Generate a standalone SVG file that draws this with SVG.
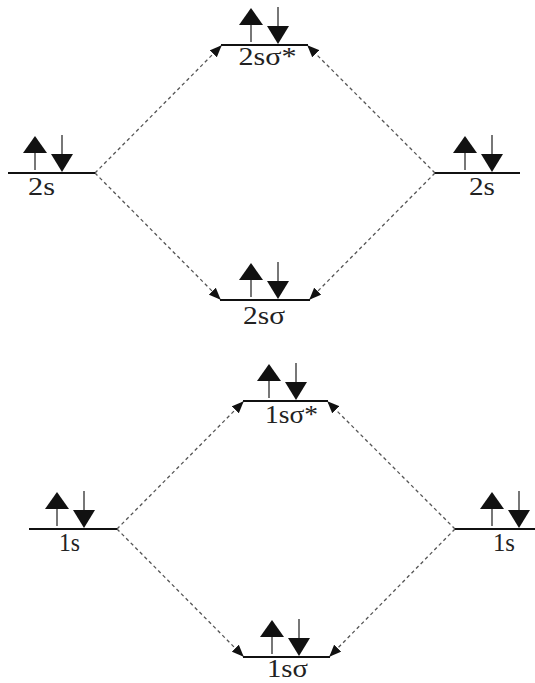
<svg xmlns="http://www.w3.org/2000/svg" width="535" height="683" viewBox="0 0 535 683">
<style>
.lvl{stroke:#111;stroke-width:2;fill:none}
.sh{stroke:#555;stroke-width:1.6;fill:none}
.tri{fill:#111}
.con{stroke:#555;stroke-width:1.3;stroke-dasharray:3.5,3;fill:none}
.lab{font-family:"Liberation Serif","Times New Roman",serif;font-size:25px;fill:#222;text-anchor:middle}
</style>
<defs>
<marker id="ah" markerWidth="12" markerHeight="10" refX="11" refY="5" orient="auto" markerUnits="userSpaceOnUse">
<path d="M0,0 L12,5 L0,10 Z" fill="#111"/>
</marker>
<g id="pair">
<line class="sh" x1="0" y1="-3" x2="0" y2="-20"/>
<path class="tri" d="M-12,-20 L0,-37 L12,-20 Z"/>
<line class="sh" x1="27" y1="-38" x2="27" y2="-19"/>
<path class="tri" d="M16,-19 L38,-19 L27,-1 Z"/>
</g>
</defs>
<g id="connectors">
<line class="con" x1="95" y1="173" x2="221" y2="46" marker-end="url(#ah)"/>
<line class="con" x1="95" y1="173" x2="220" y2="299" marker-end="url(#ah)"/>
<line class="con" x1="435" y1="173" x2="308" y2="46" marker-end="url(#ah)"/>
<line class="con" x1="435" y1="173" x2="310" y2="299" marker-end="url(#ah)"/>
<line class="con" x1="117" y1="529" x2="243" y2="402" marker-end="url(#ah)"/>
<line class="con" x1="117" y1="529" x2="243" y2="656" marker-end="url(#ah)"/>
<line class="con" x1="455" y1="529" x2="328" y2="402" marker-end="url(#ah)"/>
<line class="con" x1="455" y1="529" x2="330" y2="656" marker-end="url(#ah)"/>
</g>
<g id="mo-2s-sigma-star">
<line class="lvl" x1="221" y1="45" x2="308" y2="45"/>
<use href="#pair" x="251" y="45"/>
<text class="lab" x="267.5" y="65" textLength="58" lengthAdjust="spacingAndGlyphs">2sσ*</text>
</g>
<g id="ao-2s-left">
<line class="lvl" x1="8" y1="173" x2="95" y2="173"/>
<use href="#pair" x="35" y="173"/>
<text class="lab" x="41.5" y="195" textLength="27" lengthAdjust="spacingAndGlyphs">2s</text>
</g>
<g id="ao-2s-right">
<line class="lvl" x1="435" y1="173" x2="520" y2="173"/>
<use href="#pair" x="465" y="173"/>
<text class="lab" x="482" y="195" textLength="26" lengthAdjust="spacingAndGlyphs">2s</text>
</g>
<g id="mo-2s-sigma">
<line class="lvl" x1="220" y1="300" x2="310" y2="300"/>
<use href="#pair" x="251" y="300"/>
<text class="lab" x="264" y="324" textLength="42" lengthAdjust="spacingAndGlyphs">2sσ</text>
</g>
<g id="mo-1s-sigma-star">
<line class="lvl" x1="243" y1="401" x2="328" y2="401"/>
<use href="#pair" x="269" y="401"/>
<text class="lab" x="291.5" y="423" textLength="53" lengthAdjust="spacingAndGlyphs">1sσ*</text>
</g>
<g id="ao-1s-left">
<line class="lvl" x1="29" y1="529" x2="117" y2="529"/>
<use href="#pair" x="57" y="529"/>
<text class="lab" x="69.5" y="551" textLength="21" lengthAdjust="spacingAndGlyphs">1s</text>
</g>
<g id="ao-1s-right">
<line class="lvl" x1="455" y1="529" x2="535" y2="529"/>
<use href="#pair" x="492" y="529"/>
<text class="lab" x="504" y="551" textLength="22" lengthAdjust="spacingAndGlyphs">1s</text>
</g>
<g id="mo-1s-sigma">
<line class="lvl" x1="243" y1="657" x2="330" y2="657"/>
<use href="#pair" x="272" y="657"/>
<text class="lab" x="287.5" y="677" textLength="41" lengthAdjust="spacingAndGlyphs">1sσ</text>
</g>
</svg>
